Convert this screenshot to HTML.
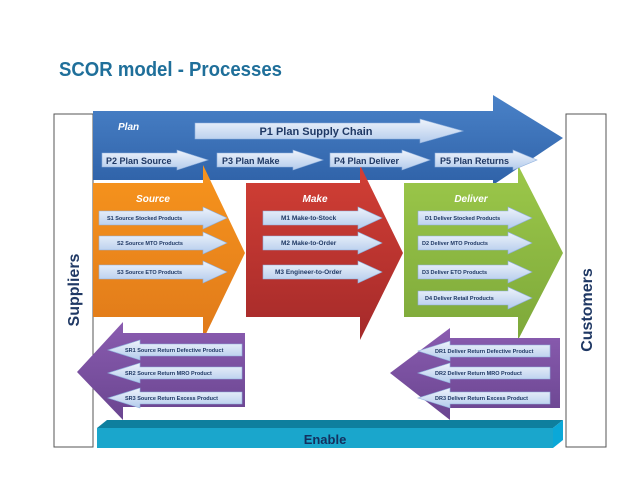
<!DOCTYPE html>
<html><head><meta charset="utf-8"><style>
html,body{margin:0;padding:0;background:#fff;}
svg{display:block;font-family:"Liberation Sans",sans-serif;}
</style></head><body>
<svg width="638" height="493" viewBox="0 0 638 493" xmlns="http://www.w3.org/2000/svg">
<defs>
<linearGradient id="pl" x1="0" y1="0" x2="0" y2="1"><stop offset="0" stop-color="#4a82c8"/><stop offset="1" stop-color="#2f62a8"/></linearGradient>
<linearGradient id="or" x1="0" y1="0" x2="0" y2="1"><stop offset="0" stop-color="#f7941d"/><stop offset="1" stop-color="#e07a1a"/></linearGradient>
<linearGradient id="rd" x1="0" y1="0" x2="0" y2="1"><stop offset="0" stop-color="#d23f35"/><stop offset="1" stop-color="#a52a2a"/></linearGradient>
<linearGradient id="gr" x1="0" y1="0" x2="0" y2="1"><stop offset="0" stop-color="#9cc84a"/><stop offset="1" stop-color="#7da83a"/></linearGradient>
<linearGradient id="pu" x1="0" y1="0" x2="0" y2="1"><stop offset="0" stop-color="#8a5cb0"/><stop offset="1" stop-color="#6a4590"/></linearGradient>
<linearGradient id="lb" x1="0" y1="0" x2="0" y2="1"><stop offset="0" stop-color="#eef3fb"/><stop offset="1" stop-color="#b3cbec"/></linearGradient>
</defs>
<text x="59" y="76" font-size="20" font-weight="bold" fill="#1f6f9a" textLength="223" lengthAdjust="spacingAndGlyphs">SCOR model - Processes</text>
<rect x="54" y="114" width="39" height="333" fill="#fff" stroke="#555" stroke-width="1"/>
<rect x="566" y="114" width="40" height="333" fill="#fff" stroke="#555" stroke-width="1"/>
<text transform="translate(79,290) rotate(-90)" font-size="16" font-weight="bold" fill="#1f3864" text-anchor="middle">Suppliers</text>
<text transform="translate(592,310) rotate(-90)" font-size="16" font-weight="bold" fill="#1f3864" text-anchor="middle">Customers</text>
<polygon points="93,111 493,111 493,95 563,138 493,185 493,180 93,180" fill="url(#pl)"/>
<text x="118" y="130" font-size="10" font-style="italic" font-weight="bold" fill="#fff">Plan</text>
<polygon points="93,183 203,183 203,165 245,253 203,340 203,317 93,317" fill="url(#or)"/>
<polygon points="246,183 360,183 360,165 403,253 360,340 360,317 246,317" fill="url(#rd)"/>
<polygon points="404,183 518,183 518,165 563,253 518,340 518,317 404,317" fill="url(#gr)"/>
<text x="153" y="202" font-size="10" font-style="italic" font-weight="bold" fill="#fff" text-anchor="middle">Source</text>
<text x="315" y="202" font-size="10" font-style="italic" font-weight="bold" fill="#fff" text-anchor="middle">Make</text>
<text x="471" y="202" font-size="10" font-style="italic" font-weight="bold" fill="#fff" text-anchor="middle">Deliver</text>
<polygon points="123,322 123,333 245,333 245,407 123,407 123,420 77,372" fill="url(#pu)"/>
<polygon points="450,328 450,338 560,338 560,408 450,408 450,420 390,373" fill="url(#pu)"/>
<polygon points="97,428 107,420 563,420 553,428" fill="#0e7f9e"/>
<polygon points="553,428 563,420 563,440 553,448" fill="#0aa8d8"/>
<rect x="97" y="428" width="456" height="20" fill="#1aa6cc"/>
<text x="325" y="444" font-size="13" font-weight="bold" fill="#14305e" text-anchor="middle">Enable</text>
<g fill="url(#lb)" stroke="#8fb0dd" stroke-width="0.6">
<polygon points="195,123 420,123 420,119 463,131 420,143 420,139 195,139"/>
<polygon points="102,153 177,153 177,150 208,160 177,170 177,167 102,167"/>
<polygon points="217,153 293,153 293,150 323,160 293,170 293,167 217,167"/>
<polygon points="330,153 402,153 402,150 430,160 402,170 402,167 330,167"/>
<polygon points="435,153 513,153 513,150 537,160 513,170 513,167 435,167"/>
<polygon points="99,211 203,211 203,207 227,218 203,229 203,225 99,225"/>
<polygon points="99,236 203,236 203,232 227,243 203,254 203,250 99,250"/>
<polygon points="99,265 203,265 203,261 227,272 203,283 203,279 99,279"/>
<polygon points="263,211 358,211 358,207 382,218 358,229 358,225 263,225"/>
<polygon points="263,236 358,236 358,232 382,243 358,254 358,250 263,250"/>
<polygon points="263,265 358,265 358,261 382,272 358,283 358,279 263,279"/>
<polygon points="418,211 508,211 508,207 532,218 508,229 508,225 418,225"/>
<polygon points="418,236 508,236 508,232 532,243 508,254 508,250 418,250"/>
<polygon points="418,265 508,265 508,261 532,272 508,283 508,279 418,279"/>
<polygon points="418,291 508,291 508,287 532,298 508,309 508,305 418,305"/>
<polygon points="242,344 140,344 140,340 108,350 140,360 140,356 242,356"/>
<polygon points="242,367 140,367 140,363 108,373 140,383 140,379 242,379"/>
<polygon points="242,392 140,392 140,388 108,398 140,408 140,404 242,404"/>
<polygon points="550,345 450,345 450,341 418,351 450,361 450,357 550,357"/>
<polygon points="550,367 450,367 450,363 418,373 450,383 450,379 550,379"/>
<polygon points="550,392 450,392 450,388 418,398 450,408 450,404 550,404"/>
</g>
<g font-weight="bold" fill="#1f3864">
<text x="316" y="135" font-size="11" text-anchor="middle">P1  Plan Supply Chain</text>
<text x="106" y="164" font-size="9">P2  Plan Source</text>
<text x="222" y="164" font-size="9">P3  Plan Make</text>
<text x="334" y="164" font-size="9">P4  Plan Deliver</text>
<text x="440" y="164" font-size="9">P5  Plan Returns</text>
<g font-size="5.5">
<text x="107" y="220">S1  Source Stocked Products</text>
<text x="117" y="245">S2  Source MTO Products</text>
<text x="117" y="274">S3  Source ETO Products</text>
<text x="425" y="220">D1  Deliver Stocked Products</text>
<text x="422" y="245">D2  Deliver MTO Products</text>
<text x="422" y="274">D3 Deliver ETO Products</text>
<text x="425" y="300">D4  Deliver Retail Products</text>
<text x="125" y="352">SR1  Source Return Defective Product</text>
<text x="125" y="375">SR2  Source Return MRO Product</text>
<text x="125" y="400">SR3  Source Return Excess Product</text>
<text x="435" y="353">DR1  Deliver Return Defective Product</text>
<text x="435" y="375">DR2  Deliver Return MRO Product</text>
<text x="435" y="400">DR3 Deliver Return Excess Product</text>
</g>
<g font-size="6.5">
<text x="281" y="220">M1  Make-to-Stock</text>
<text x="281" y="245">M2  Make-to-Order</text>
<text x="275" y="274">M3  Engineer-to-Order</text>
</g>
</g>
</svg>
</body></html>
